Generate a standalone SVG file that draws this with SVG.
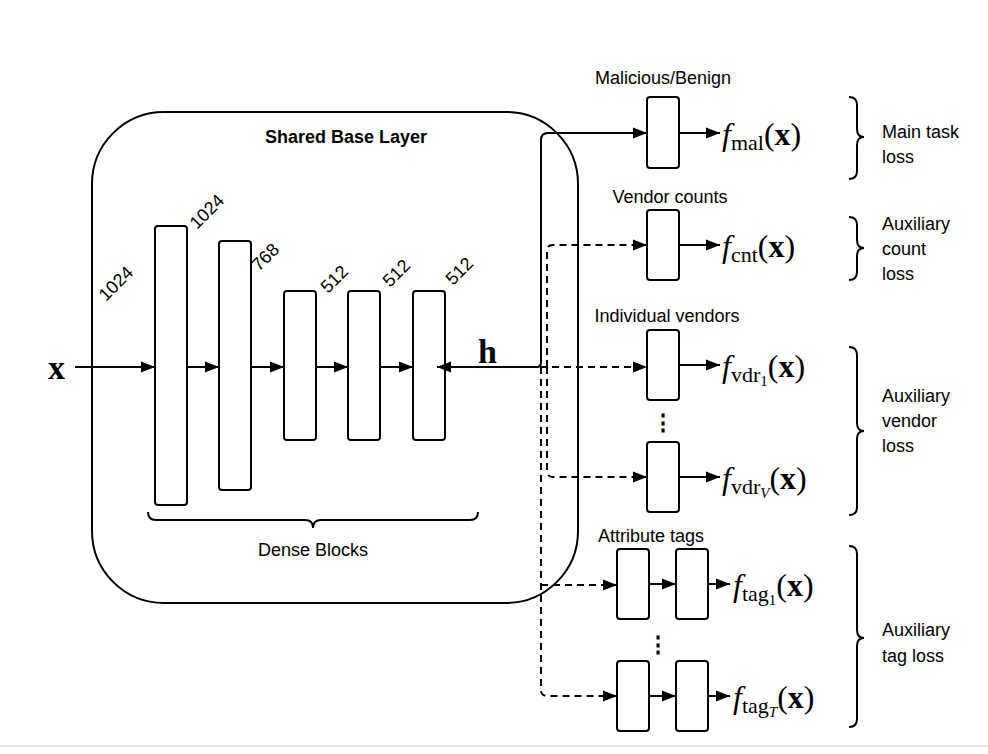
<svg xmlns="http://www.w3.org/2000/svg" width="988" height="754" viewBox="0 0 988 754">
<defs>
<marker id="a" viewBox="0 0 10 10" refX="10" refY="5" markerWidth="7" markerHeight="7" orient="auto"><path d="M0,1 L10,5 L0,9 z" fill="#000"/></marker>
<style>
.b{fill:#fff;stroke:#000;stroke-width:2}
.l{fill:none;stroke:#000;stroke-width:2}
.d{fill:none;stroke:#000;stroke-width:2;stroke-dasharray:7 5}
.s{font-family:"Liberation Sans",Arial,sans-serif;font-size:18px}
.m{font-family:"Liberation Serif","Times New Roman",serif;font-size:32px}
.sub{font-size:22px}
</style>
</defs>
<rect width="988" height="754" fill="#fff"/>
<line x1="0" y1="746" x2="988" y2="746" stroke="#e6e6e6" stroke-width="2"/>
<g id="base"><rect x="92" y="112" width="486" height="491" rx="72" class="l"/>
<text x="346" y="143" class="s" font-weight="bold" text-anchor="middle">Shared Base Layer</text></g>
<g id="dense">
<rect x="155" y="226" width="32" height="279" rx="3" class="b"/>
<rect x="219" y="241" width="32" height="249" rx="3" class="b"/>
<rect x="284" y="291" width="32" height="149" rx="3" class="b"/>
<rect x="348" y="291" width="32" height="149" rx="3" class="b"/>
<rect x="413" y="291" width="32" height="149" rx="3" class="b"/>
<g class="s"><text transform="translate(106,302) rotate(-45)">1024</text>
<text transform="translate(197,230) rotate(-45)">1024</text>
<text transform="translate(259,272) rotate(-45)">768</text>
<text transform="translate(328,294) rotate(-45)">512</text>
<text transform="translate(390,288) rotate(-45)">512</text>
<text transform="translate(453,286) rotate(-45)">512</text></g>
<path d="M148,512 Q148,520 156,520 L305,520 Q313,520 313,528 Q313,520 321,520 L470,520 Q478,520 478,512" class="l"/>
<text x="313" y="556" class="s" text-anchor="middle">Dense Blocks</text>
</g>
<g id="heads">
<rect x="647" y="97" width="32" height="71" rx="3" class="b"/>
<rect x="647" y="210" width="32" height="70" rx="3" class="b"/>
<rect x="647" y="330" width="32" height="70" rx="3" class="b"/>
<rect x="647" y="442" width="32" height="70" rx="3" class="b"/>
<rect x="617" y="549" width="32" height="70" rx="3" class="b"/>
<rect x="676" y="549" width="32" height="70" rx="3" class="b"/>
<rect x="617" y="661" width="32" height="70" rx="3" class="b"/>
<rect x="676" y="661" width="32" height="70" rx="3" class="b"/>
<g class="s" text-anchor="middle"><text x="663" y="84">Malicious/Benign</text><text x="670" y="203">Vendor counts</text><text x="667" y="322">Individual vendors</text><text x="651" y="542">Attribute tags</text></g>
<g font-family="Liberation Sans,sans-serif" font-size="22" font-weight="bold" text-anchor="middle"><text x="663" y="430">⋮</text><text x="658" y="652">⋮</text></g>
</g>
<g id="connectors">
<line x1="75" y1="367" x2="155" y2="367" class="l" marker-end="url(#a)"/>
<line x1="187" y1="367" x2="219" y2="367" class="l" marker-end="url(#a)"/>
<line x1="251" y1="367" x2="284" y2="367" class="l" marker-end="url(#a)"/>
<line x1="316" y1="367" x2="348" y2="367" class="l" marker-end="url(#a)"/>
<line x1="380" y1="367" x2="413" y2="367" class="l" marker-end="url(#a)"/>
<line x1="537" y1="367" x2="437" y2="367" class="l" marker-end="url(#a)"/>
<path d="M537,367 Q541,367 541,362 L541,140 Q541,133 548,133 L647,133" class="l" marker-end="url(#a)"/>
<path d="M540,367 L647,367" class="d" marker-end="url(#a)"/>
<path d="M547,367 L547,251 Q547,245 553,245 L647,245" class="d" marker-end="url(#a)"/>
<path d="M547,367 L547,471 Q547,477 553,477 L647,477" class="d" marker-end="url(#a)"/>
<path d="M541,367 L541,690 Q541,696 547,696 L617,696" class="d" marker-end="url(#a)"/>
<path d="M541,585 L617,585" class="d" marker-end="url(#a)"/>
<g class="l" marker-end="url(#a)">
<line x1="679" y1="133" x2="720" y2="133"/><line x1="679" y1="245" x2="720" y2="245"/>
<line x1="679" y1="365" x2="720" y2="365"/><line x1="679" y1="477" x2="720" y2="477"/>
<line x1="649" y1="584" x2="676" y2="584"/><line x1="708" y1="584" x2="730" y2="584"/>
<line x1="649" y1="696" x2="676" y2="696"/><line x1="708" y1="696" x2="730" y2="696"/></g>
</g>
<g id="math" class="m">
<text x="48" y="379" font-weight="bold" font-size="34">x</text>
<text x="478" y="363" font-weight="bold" font-size="34">h</text>
<text x="722" y="145"><tspan font-style="italic">f</tspan><tspan class="sub" dy="5">mal</tspan><tspan dy="-5">(</tspan><tspan font-weight="bold">x</tspan>)</text>
<text x="722" y="257"><tspan font-style="italic">f</tspan><tspan class="sub" dy="5">cnt</tspan><tspan dy="-5">(</tspan><tspan font-weight="bold">x</tspan>)</text>
<text x="722" y="377"><tspan font-style="italic">f</tspan><tspan class="sub" dy="5">vdr</tspan><tspan font-size="15" dy="4">1</tspan><tspan dy="-9">(</tspan><tspan font-weight="bold">x</tspan>)</text>
<text x="722" y="489"><tspan font-style="italic">f</tspan><tspan class="sub" dy="5">vdr</tspan><tspan font-size="15" font-style="italic" dy="4">V</tspan><tspan dy="-9">(</tspan><tspan font-weight="bold">x</tspan>)</text>
<text x="733" y="596"><tspan font-style="italic">f</tspan><tspan class="sub" dy="5">tag</tspan><tspan font-size="15" dy="4">1</tspan><tspan dy="-9">(</tspan><tspan font-weight="bold">x</tspan>)</text>
<text x="733" y="708"><tspan font-style="italic">f</tspan><tspan class="sub" dy="5">tag</tspan><tspan font-size="15" font-style="italic" dy="4">T</tspan><tspan dy="-9">(</tspan><tspan font-weight="bold">x</tspan>)</text>
</g>
<g id="losses">
<path d="M849,97 Q857,97 857,105 L857,129 Q857,137 864,137 Q857,137 857,145 L857,171 Q857,179 849,179" class="l"/>
<path d="M849,217 Q857,217 857,225 L857,240 Q857,248 864,248 Q857,248 857,256 L857,272 Q857,280 849,280" class="l"/>
<path d="M849,347 Q857,347 857,355 L857,423 Q857,431 864,431 Q857,431 857,439 L857,507 Q857,515 849,515" class="l"/>
<path d="M849,546 Q857,546 857,554 L857,630 Q857,638 864,638 Q857,638 857,646 L857,719 Q857,727 849,727" class="l"/>
<g class="s"><text x="882" y="138">Main task</text><text x="882" y="163">loss</text>
<text x="882" y="230">Auxiliary</text><text x="882" y="255">count</text><text x="882" y="280">loss</text>
<text x="882" y="402">Auxiliary</text><text x="882" y="427">vendor</text><text x="882" y="452">loss</text>
<text x="882" y="636">Auxiliary</text><text x="882" y="662">tag loss</text></g>
</g>
</svg>
